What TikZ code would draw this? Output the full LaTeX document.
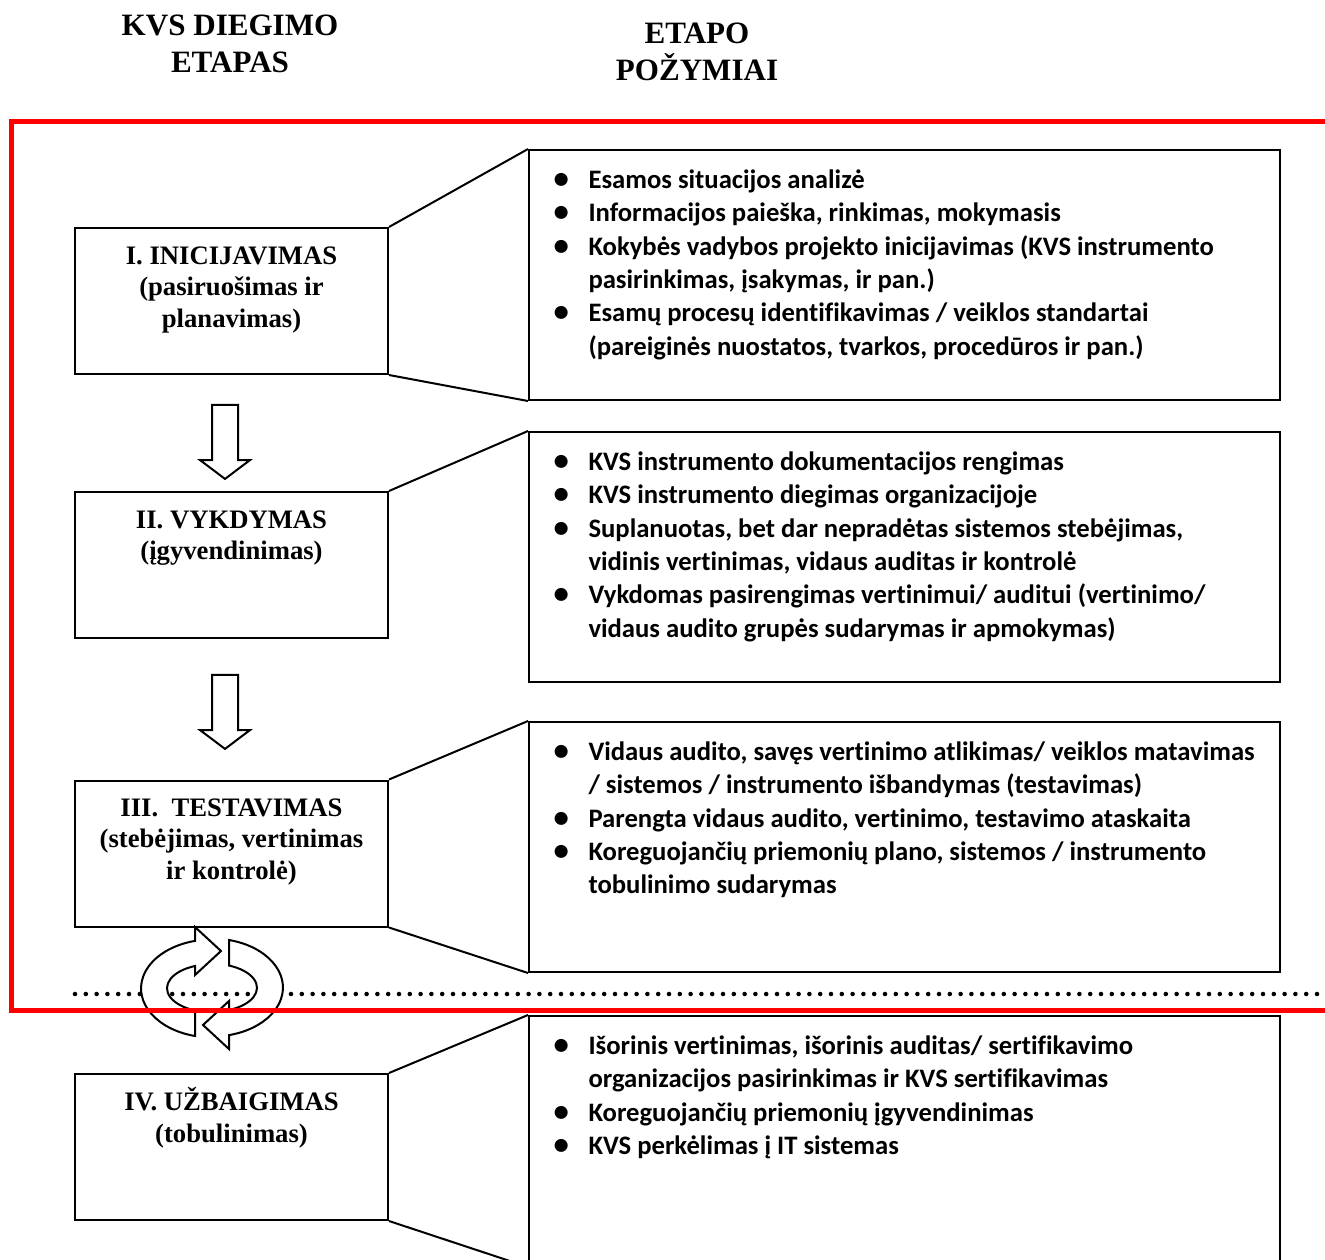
\documentclass[tikz,border=0pt]{standalone}
\usepackage{fontspec}
\setmainfont{Liberation Serif}
\newfontfamily\calibfont[Ligatures={NoCommon}]{Carlito}
\usetikzlibrary{shapes.arrows}

\tikzset{every picture/.style={line width=0.75pt}}
\tikzset{
  stagebox/.style={draw, line width=1.5pt, minimum width=234.75pt, minimum height=109.5pt, inner sep=0pt},
  pointbox/.style={draw, line width=1.5pt, minimum width=563.25pt, minimum height=187.5pt, inner sep=0pt},
  link/.style={line width=1.5pt},
  headtext/.style={anchor=north, align=center, inner sep=0pt, font=\bfseries\fontsize{23.3}{27.75}\selectfont},
  stagetext/.style={anchor=north, align=center, inner sep=0pt, font=\bfseries\fontsize{20}{23.6}\selectfont},
  pointtext/.style={anchor=north west, inner sep=0pt, font=\calibfont\bfseries\fontsize{20}{25}\selectfont},
  flowarrow/.style={single arrow, draw, fill=white, line width=1.5pt, rotate=-90, inner xsep=0pt, inner ysep=9pt,
    single arrow head extend=9pt, single arrow tip angle=106, minimum height=55.5pt, minimum width=0pt},
  cyclearrow/.style={draw, fill=white, line width=1.5pt},
  dotrule/.style={line width=3.4pt, line cap=round, dash pattern=on 0pt off 8.1pt},
  redframe/.style={draw=red, line width=3.75pt},
}
\newcommand\ptbullet{\makebox[26.25pt][l]{\fontsize{23}{25}\selectfont•}}

\begin{document}
\begin{tikzpicture}[x=0.75pt,y=0.75pt,yscale=-1,xscale=1]
\useasboundingbox (0,0) rectangle (1325,1260);

% Text Node
\node[headtext] (headstage) at (230,8.3) {\rule{0pt}{20pt}KVS DIEGIMO\\ETAPAS};
% Text Node
\node[headtext] (headpoint) at (697,16.3) {\rule{0pt}{20pt}ETAPO\\POŽYMIAI};

%Shape: Rectangle
\node[stagebox] (s1) at (231.5,301) {};
\node[stagebox] (s2) at (231.5,565) {};
\node[stagebox] (s3) at (231.5,853.5) {};
\node[stagebox] (s4) at (231.5,1147) {};
%Shape: Rectangle
\node[pointbox] (r1) at (904.5,275) {};
\node[pointbox] (r2) at (904.5,557) {};
\node[pointbox] (r3) at (904.5,847) {};
\node[pointbox] (r4) at (904.5,1141) {};

%Straight Lines
\draw[link] (s1.north east) -- (r1.north west);
\draw[link] (s1.south east) -- (r1.south west);
\draw[link] (s2.north east) -- (r2.north west);
\draw[link] (s3.north east) -- (r3.north west);
\draw[link] (s3.south east) -- (r3.south west);
\draw[link] (s4.north east) -- (r4.north west);
\draw[link] (s4.south east) -- (r4.south west);

%Down Arrow
\node[flowarrow] (down1) at (225,437) {};
\node[flowarrow] (down2) at (225,707) {};

%Dotted Line
\draw[dotrule] (75,994) -- (1325,994);

%Circular Arrow
\draw[cyclearrow] (195,1036) arc[start angle=103.9, end angle=256.1, x radius=71, y radius=49] -- (195,927) -- (221,951) -- (195,975) -- (195,966) arc[start angle=247.8, end angle=112.2, x radius=45, y radius=24] -- cycle;
\begin{scope}[rotate around={180:(212,988)}]
\draw[cyclearrow] (195,1036) arc[start angle=103.9, end angle=256.1, x radius=71, y radius=49] -- (195,927) -- (221,951) -- (195,975) -- (195,966) arc[start angle=247.8, end angle=112.2, x radius=45, y radius=24] -- cycle;
\end{scope}

%Shape: Rectangle
\draw[redframe] (11,121) rectangle (1345,1010);

% Text Node
\node[stagetext] (s1t) at (231.5,241.3) {\rule{0pt}{17pt}I. INICIJAVIMAS\\(pasiruošimas ir\\planavimas)};
% Text Node
\node[stagetext] (s2t) at (231.5,505.3) {\rule{0pt}{17pt}II. VYKDYMAS\\(įgyvendinimas)};
% Text Node
\node[stagetext] (s3t) at (231.5,793.3) {\rule{0pt}{17pt}III.\ \ TESTAVIMAS\\(stebėjimas, vertinimas\\ir kontrolė)};
% Text Node
\node[stagetext] (s4t) at (231.5,1087.3) {\rule{0pt}{17pt}IV. UŽBAIGIMAS\\(tobulinimas)};

% Text Node
\node[pointtext] (r1t) at (553,164.7) {\begin{tabular}{@{}l@{}l@{}}
\ptbullet & Esamos situacijos analizė\\
\ptbullet & Informacijos paieška, rinkimas, mokymasis\\
\ptbullet & Kokybės vadybos projekto inicijavimas (KVS instrumento\\
 & pasirinkimas, įsakymas, ir pan.)\\
\ptbullet & Esamų procesų identifikavimas / veiklos standartai\\
 & (pareiginės nuostatos, tvarkos, procedūros ir pan.)
\end{tabular}};
% Text Node
\node[pointtext] (r2t) at (553,446.7) {\begin{tabular}{@{}l@{}l@{}}
\ptbullet & KVS instrumento dokumentacijos rengimas\\
\ptbullet & KVS instrumento diegimas organizacijoje\\
\ptbullet & Suplanuotas, bet dar nepradėtas sistemos stebėjimas,\\
 & vidinis vertinimas, vidaus auditas ir kontrolė\\
\ptbullet & Vykdomas pasirengimas vertinimui/ auditui (vertinimo/\\
 & vidaus audito grupės sudarymas ir apmokymas)
\end{tabular}};
% Text Node
\node[pointtext] (r3t) at (553,736.7) {\begin{tabular}{@{}l@{}l@{}}
\ptbullet & Vidaus audito, savęs vertinimo atlikimas/ veiklos matavimas\\
 & / sistemos / instrumento išbandymas (testavimas)\\
\ptbullet & Parengta vidaus audito, vertinimo, testavimo ataskaita\\
\ptbullet & Koreguojančių priemonių plano, sistemos / instrumento\\
 & tobulinimo sudarymas
\end{tabular}};
% Text Node
\node[pointtext] (r4t) at (553,1030.7) {\begin{tabular}{@{}l@{}l@{}}
\ptbullet & Išorinis vertinimas, išorinis auditas/ sertifikavimo\\
 & organizacijos pasirinkimas ir KVS sertifikavimas\\
\ptbullet & Koreguojančių priemonių įgyvendinimas\\
\ptbullet & KVS perkėlimas į IT sistemas
\end{tabular}};

\end{tikzpicture}
\end{document}
